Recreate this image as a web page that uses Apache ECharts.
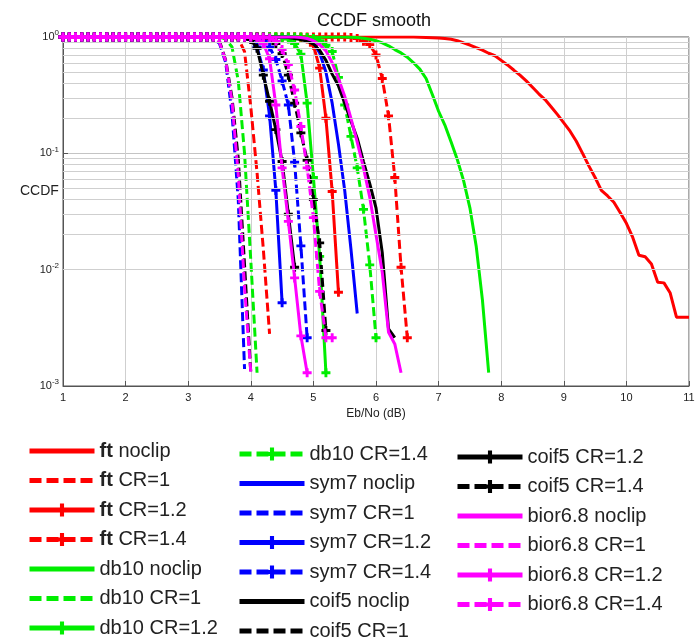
<!DOCTYPE html>
<html>
<head>
<meta charset="utf-8">
<script src="https://cdn.jsdelivr.net/npm/echarts@6/dist/echarts.min.js"></script>
<style>html,body{margin:0;padding:0;background:#fff;}#chart{width:698px;height:642px;}</style>
</head>
<body>
<div id="chart"></div>
<script>
// x grid (Eb/No, dB)
const EBNO = [1.0,1.1,1.2,1.3,1.4,1.5,1.6,1.7,1.8,1.9,
  2.0,2.1,2.2,2.3,2.4,2.5,2.6,2.7,2.8,2.9,
  3.0,3.1,3.2,3.3,3.4,3.5,3.6,3.7,3.8,3.9,
  4.0,4.1,4.2,4.3,4.4,4.5,4.6,4.7,4.8,4.9,
  5.0,5.1,5.2,5.3,5.4,5.5,5.6,5.7,5.8,5.9,
  6.0,6.1,6.2,6.3,6.4,6.5,6.6,6.7,6.8,6.9,
  7.0,7.1,7.2,7.3,7.4,7.5,7.6,7.7,7.8,7.9,
  8.0,8.1,8.2,8.3,8.4,8.5,8.6,8.7,8.8,8.9,
  9.0,9.1,9.2,9.3,9.4,9.5,9.6,9.7,9.8,9.9,
  10.0,10.1,10.2,10.3,10.4,10.5,10.6,10.7,10.8,10.9,11.0];

// CCDF values: each curve is 1 before its start x, then the listed values on the grid
const ftNoclip   = [1.0,0.998,0.995,0.99,0.985,0.98,0.97,0.955,0.93,0.89,0.853,0.81,0.77,0.725,0.69,0.63,0.575,0.52,0.47,0.42,0.37,0.325,0.29,0.25,0.215,0.183,0.155,0.127,0.10,0.078,0.062,0.048,0.043,0.038,0.031,0.025,0.019,0.0133,0.0129,0.0112,0.0078,0.0077,0.0063,0.0039,0.0039,0.0039];
const ftCR1      = [1,0.97,0.75,0.25,0.068,0.015,0.0028];
const ftCR12     = [1,0.99,0.96,0.85,0.54,0.20,0.047,0.0064];
const ftCR14     = [1,0.99,0.97,0.92,0.86,0.70,0.44,0.21,0.062,0.0105,0.0026];
const db10Noclip = [1,0.995,0.99,0.975,0.955,0.93,0.89,0.84,0.78,0.73,0.67,0.60,0.53,0.44,0.32,0.23,0.175,0.125,0.088,0.058,0.034,0.016,0.0055,0.0013];
const db10CR1    = [1,0.96,0.82,0.42,0.1,0.012,0.0013];
const db10CR12   = [1,0.99,0.96,0.88,0.71,0.27,0.062,0.013,0.0013];
const db10CR14   = [1,0.99,0.97,0.93,0.85,0.75,0.45,0.26,0.14,0.075,0.033,0.011,0.0026];
const sym7Noclip = [1,0.995,0.98,0.95,0.9,0.73,0.50,0.27,0.12,0.048,0.015,0.0042];
const sym7CR1    = [1,0.98,0.88,0.6,0.22,0.04,0.0014];
const sym7CR12   = [1,0.99,0.96,0.82,0.52,0.21,0.048,0.0052];
const sym7CR14   = [1,0.98,0.93,0.82,0.64,0.42,0.26,0.084,0.0160,0.0026];
const coif5Noclip= [1,0.99,0.97,0.95,0.92,0.87,0.77,0.63,0.48,0.38,0.27,0.19,0.135,0.085,0.055,0.034,0.014,0.0031,0.0026];
const coif5CR1   = [1,0.92,0.63,0.30,0.09,0.011,0.0013];
const coif5CR12  = [1,0.95,0.8,0.47,0.28,0.16,0.085,0.03,0.0105];
const coif5CR14  = [1,0.97,0.88,0.72,0.47,0.27,0.15,0.087,0.04,0.017,0.003];
const bior68Noclip=[1,0.99,0.97,0.93,0.86,0.76,0.60,0.44,0.31,0.20,0.125,0.075,0.042,0.02,0.0095,0.0029,0.0023,0.0013];
const bior68CR1  = [1,0.9,0.62,0.28,0.065,0.007,0.0013];
const bior68CR12 = [1,0.97,0.88,0.65,0.26,0.075,0.026,0.0085,0.0027,0.0013];
const bior68CR14 = [1,0.98,0.92,0.78,0.58,0.35,0.17,0.075,0.028,0.0065,0.0026,0.0026];

// name, start x, values
const CURVES = [
  ['ft noclip', 6.5, ftNoclip], ['ft CR=1', 3.7, ftCR1], ['ft CR=1.2', 4.7, ftCR12], ['ft CR=1.4', 5.5, ftCR14],
  ['db10 noclip', 5.5, db10Noclip], ['db10 CR=1', 3.5, db10CR1], ['db10 CR=1.2', 4.4, db10CR12], ['db10 CR=1.4', 4.8, db10CR14],
  ['sym7 noclip', 4.6, sym7Noclip], ['sym7 CR=1', 3.3, sym7CR1], ['sym7 CR=1.2', 3.8, sym7CR12], ['sym7 CR=1.4', 4.0, sym7CR14],
  ['coif5 noclip', 4.5, coif5Noclip], ['coif5 CR=1', 3.4, coif5CR1], ['coif5 CR=1.2', 3.9, coif5CR12], ['coif5 CR=1.4', 4.2, coif5CR14],
  ['bior6.8 noclip', 4.7, bior68Noclip], ['bior6.8 CR=1', 3.4, bior68CR1], ['bior6.8 CR=1.2', 4.0, bior68CR12], ['bior6.8 CR=1.4', 4.2, bior68CR14]
];
const FAMILY_COLORS = ['#ff0000', '#00ee00', '#0000ff', '#000000', '#ff00ff'];
const X_TICKS = [1,2,3,4,5,6,7,8,9,10,11];
const Y_MINOR = [0.002,0.003,0.004,0.005,0.006,0.007,0.008,0.009,
                 0.02,0.03,0.04,0.05,0.06,0.07,0.08,0.09,
                 0.2,0.3,0.4,0.5,0.6,0.7,0.8,0.9];

function build(start, tail) {
  const i0 = EBNO.findIndex(x => Math.abs(x - start) < 1e-6);
  return EBNO.slice(0, i0 + tail.length).map((x, i) => [x, i < i0 ? 1 : tail[i - i0]]);
}
const variantOf = k => k % 4; // 0 noclip, 1 CR=1, 2 CR=1.2, 3 CR=1.4
const isDashed = k => variantOf(k) === 1 || variantOf(k) === 3;
const hasMarker = k => variantOf(k) >= 2;

const PLUS = 'path://M3.4,0 H6.6 V3.4 H10 V6.6 H6.6 V10 H3.4 V6.6 H0 V3.4 H3.4 Z';
const series = CURVES.map((c, k) => {
  const col = FAMILY_COLORS[Math.floor(k / 4)];
  return {
    name: c[0], type: 'line', data: build(c[1], c[2]),
    color: col,
    lineStyle: { width: 3, type: isDashed(k) ? [9, 4] : 'solid', color: col },
    itemStyle: { color: col },
    showSymbol: hasMarker(k), symbol: hasMarker(k) ? PLUS : 'none', symbolSize: 9, showAllSymbol: true,
    animation: false, z: 3 + k * 0.01
  };
});
series.push({
  type: 'line', data: [], silent: true, animation: false,
  markLine: { silent: true, symbol: 'none', label: { show: false },
    lineStyle: { color: '#cfcfcf', width: 1, type: 'solid' },
    data: Y_MINOR.map(v => ({ yAxis: v })) }
});

const FONT = 'Liberation Sans, Arial, sans-serif';
const legendText = { fontSize: 20, fontFamily: FONT, color: '#222', lineHeight: 20,
  rich: { b: { fontSize: 20, fontWeight: 'bold', fontFamily: FONT, color: '#222' } } };
function mkLegend(from, to, left, top) {
  const data = [];
  for (let k = from; k < to; k++) {
    data.push({ name: CURVES[k][0],
      itemStyle: hasMarker(k) ? { opacity: 1 } : { opacity: 0 },
      lineStyle: { width: 5, type: isDashed(k) ? [12, 5] : 'solid' } });
  }
  return { data: data, orient: 'vertical', left: left, top: top, padding: 0,
    itemWidth: 65, itemHeight: 16, itemGap: 9.5,
    textStyle: legendText, selectedMode: false, symbolKeepAspect: true,
    formatter: n => n.startsWith('ft ') ? '{b|ft}' + n.slice(2) : n };
}

const chart = echarts.init(document.getElementById('chart'));
chart.setOption({
  backgroundColor: '#fff',
  animation: false,
  title: { text: 'CCDF smooth', left: 312, top: 7,
    textStyle: { fontSize: 18, fontWeight: 'normal', color: '#111', fontFamily: FONT } },
  grid: { left: 63, right: 9, top: 37, bottom: 256, show: true, borderColor: '#555', borderWidth: 1 },
  xAxis: { type: 'value', min: X_TICKS[0], max: X_TICKS[X_TICKS.length - 1], interval: 1,
    name: 'Eb/No (dB)', nameLocation: 'middle', nameGap: 20,
    nameTextStyle: { fontSize: 12, color: '#222', fontFamily: FONT },
    axisLine: { lineStyle: { color: '#555' } },
    axisTick: { inside: true, length: 5, lineStyle: { color: '#555' } },
    axisLabel: { fontSize: 11, color: '#222', margin: 6, fontFamily: FONT },
    splitLine: { show: true, lineStyle: { color: '#cfcfcf', width: 1 } } },
  yAxis: { type: 'log', logBase: 10, min: 0.001, max: 1, interval: 1,
    axisLine: { show: true, lineStyle: { color: '#555' } },
    axisTick: { show: true, inside: true, length: 5, lineStyle: { color: '#555' } },
    axisLabel: { fontSize: 11, color: '#222', margin: 4, fontFamily: FONT,
      formatter: v => '10{e|' + Math.round(Math.log10(v)) + '}',
      rich: { e: { fontSize: 8, color: '#222', padding: [0, 0, 8, 0] } } },
    splitLine: { show: true, lineStyle: { color: '#c4c4c4', width: 1 } } },
  graphic: [{ type: 'text', left: 20, top: 184,
    style: { text: 'CCDF', fontSize: 14, fill: '#222', fontFamily: FONT } }],
  legend: [
    mkLegend(0, 7, 27, 441),
    mkLegend(7, 14, 237, 444),
    mkLegend(14, 20, 455, 447)
  ],
  series: series
});
</script>
</body>
</html>
